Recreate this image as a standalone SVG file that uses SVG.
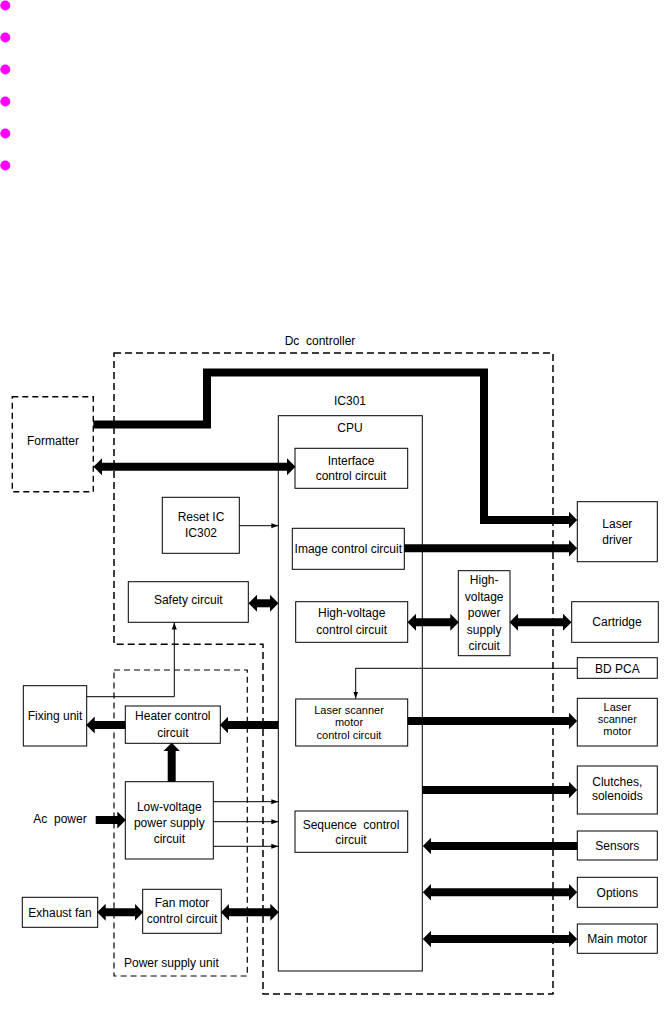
<svg xmlns="http://www.w3.org/2000/svg" width="670" height="1016" viewBox="0 0 670 1016">
<style>
text{font-family:"Liberation Sans",Arial,sans-serif;font-size:12px;fill:#000}
.c{text-anchor:middle}
.s{font-size:11px}
.box{fill:none;stroke:#000;stroke-width:1}
.dash{fill:none;stroke:#000;stroke-width:1.2;stroke-dasharray:6,4}
.thick{fill:none;stroke:#000;stroke-width:8;stroke-linejoin:miter}
.thin{fill:none;stroke:#000;stroke-width:1}
.dot{fill:#ff00ff}
</style>
<defs>
<marker id="ah" markerUnits="userSpaceOnUse" markerWidth="9" markerHeight="18" refX="3" refY="8.5" orient="auto-start-reverse" viewBox="0 0 9 17">
<path d="M0,0 L8.5,8.5 L0,17 z" fill="#000"/>
</marker>
<marker id="as" markerUnits="userSpaceOnUse" markerWidth="7" markerHeight="6" refX="7" refY="2.5" orient="auto" viewBox="0 0 7 5">
<path d="M0,0 L7,2.5 L0,5 z" fill="#000"/>
</marker>
</defs>

<g id="bullets">
<circle class="dot" cx="5.3" cy="5.5" r="5"/>
<circle class="dot" cx="5.3" cy="37.5" r="5"/>
<circle class="dot" cx="5.3" cy="69.5" r="5"/>
<circle class="dot" cx="5.3" cy="101.5" r="5"/>
<circle class="dot" cx="5.3" cy="133.5" r="5"/>
<circle class="dot" cx="5.3" cy="165.5" r="5"/>
</g>

<g id="dc-controller">
<path class="dash" d="M114,353 H553 V994 H263 V644.3 H114 Z" style="stroke-width:1.5;stroke-dasharray:7,4"/>
<text x="320" y="345" class="c" xml:space="preserve">Dc  controller</text>
</g>

<g id="power-supply-unit">
<rect class="dash" x="114" y="670" width="133.3" height="306"/>
<text x="124" y="967">Power supply unit</text>
</g>

<g id="formatter">
<rect class="dash" x="12.3" y="396.7" width="81" height="95" style="stroke-width:1.4"/>
<text x="53" y="445" class="c">Formatter</text>
</g>

<g id="ic301">
<rect class="box" x="278.3" y="415.7" width="144" height="555.3"/>
<text x="350" y="405" class="c">IC301</text>
<text x="350" y="432" class="c">CPU</text>
</g>

<g id="interface">
<rect class="box" x="295" y="448.3" width="112.7" height="40"/>
<text x="351" y="465" class="c">Interface</text>
<text x="351" y="480" class="c">control circuit</text>
</g>

<g id="reset-ic">
<rect class="box" x="162.3" y="497.3" width="77" height="56"/>
<text x="201" y="521" class="c">Reset IC</text>
<text x="201" y="537" class="c">IC302</text>
</g>

<g id="image-control">
<rect class="box" x="292.3" y="528.3" width="112" height="41"/>
<text x="348.3" y="553" class="c">Image control circuit</text>
</g>

<g id="laser-driver">
<rect class="box" x="577.3" y="501.7" width="80" height="60"/>
<text x="617.3" y="528" class="c">Laser</text>
<text x="617.3" y="544" class="c">driver</text>
</g>

<g id="safety">
<rect class="box" x="128.3" y="581.7" width="120" height="40.6"/>
<text x="188.3" y="604" class="c">Safety circuit</text>
</g>

<g id="hv-control">
<rect class="box" x="295.7" y="601.7" width="112" height="40.6"/>
<text x="351.7" y="617" class="c">High-voltage</text>
<text x="351.7" y="634" class="c">control circuit</text>
</g>

<g id="hv-power">
<rect class="box" x="458.3" y="570.7" width="51.7" height="85"/>
<text x="484.2" y="584" class="c">High-</text>
<text x="484.2" y="600.5" class="c">voltage</text>
<text x="484.2" y="617" class="c">power</text>
<text x="484.2" y="633.5" class="c">supply</text>
<text x="484.2" y="650" class="c">circuit</text>
</g>

<g id="cartridge">
<rect class="box" x="571.7" y="601.7" width="86.6" height="40.6"/>
<text x="617" y="626" class="c">Cartridge</text>
</g>

<g id="bd-pca">
<rect class="box" x="577.3" y="657.7" width="80" height="20.6"/>
<text x="617.3" y="672.5" class="c">BD PCA</text>
</g>

<g id="ls-control">
<rect class="box" x="295.7" y="699" width="112" height="47"/>
<text x="349" y="714" class="c s">Laser scanner</text>
<text x="349" y="726" class="c s">motor</text>
<text x="349" y="739" class="c s">control circuit</text>
</g>

<g id="ls-motor">
<rect class="box" x="577.3" y="698.3" width="80" height="47.7"/>
<text x="617.3" y="711" class="c s">Laser</text>
<text x="617.3" y="723" class="c s">scanner</text>
<text x="617.3" y="735" class="c s">motor</text>
</g>

<g id="clutches">
<rect class="box" x="577.3" y="766" width="80" height="48"/>
<text x="617.3" y="786" class="c">Clutches,</text>
<text x="617.3" y="800" class="c">solenoids</text>
</g>

<g id="sequence">
<rect class="box" x="295" y="811" width="112.7" height="41.3"/>
<text x="351" y="829" class="c" xml:space="preserve">Sequence  control</text>
<text x="351" y="844" class="c">circuit</text>
</g>

<g id="sensors">
<rect class="box" x="577.3" y="831" width="80" height="29"/>
<text x="617.3" y="850" class="c">Sensors</text>
</g>

<g id="options">
<rect class="box" x="577.3" y="877.3" width="80" height="30"/>
<text x="617.3" y="897" class="c">Options</text>
</g>

<g id="main-motor">
<rect class="box" x="577.3" y="924" width="80" height="29.3"/>
<text x="617.3" y="943" class="c">Main motor</text>
</g>

<g id="fixing">
<rect class="box" x="23.3" y="685.7" width="63.4" height="60.3"/>
<text x="55" y="720" class="c">Fixing unit</text>
</g>

<g id="heater">
<rect class="box" x="125.3" y="706" width="95" height="37.3"/>
<text x="172.8" y="720" class="c">Heater control</text>
<text x="172.8" y="737" class="c">circuit</text>
</g>

<g id="low-voltage">
<rect class="box" x="125.3" y="781.7" width="88" height="77.3"/>
<text x="169.3" y="810.5" class="c">Low-voltage</text>
<text x="169.3" y="826.5" class="c">power supply</text>
<text x="169.3" y="843" class="c">circuit</text>
</g>

<g id="ac-power">
<text x="33.3" y="823" xml:space="preserve">Ac  power</text>
</g>

<g id="exhaust-fan">
<rect class="box" x="22.3" y="897.3" width="75.4" height="30"/>
<text x="60" y="916.5" class="c">Exhaust fan</text>
</g>

<g id="fan-motor">
<rect class="box" x="142.7" y="889.3" width="78.6" height="44"/>
<text x="182" y="906.5" class="c">Fan motor</text>
<text x="182" y="923" class="c">control circuit</text>
</g>

<g id="connectors">
<polyline class="thick" points="93.3,424.5 207,424.5 207,372.5 484,372.5 484,520 571.7,520" marker-end="url(#ah)"/>
<line class="thick" x1="99" y1="466.7" x2="290" y2="466.7" marker-start="url(#ah)" marker-end="url(#ah)"/>
<line class="thin" x1="239.3" y1="525.7" x2="278.3" y2="525.7" marker-end="url(#as)"/>
<line class="thick" x1="404.3" y1="548.3" x2="571.7" y2="548.3" marker-end="url(#ah)"/>
<line class="thick" x1="254" y1="603.3" x2="273" y2="603.3" marker-start="url(#ah)" marker-end="url(#ah)"/>
<polyline class="thin" points="86.7,696.7 174.3,696.7 174.3,622.5" marker-end="url(#as)"/>
<line class="thick" x1="413" y1="622.3" x2="453.3" y2="622.3" marker-start="url(#ah)" marker-end="url(#ah)"/>
<line class="thick" x1="515" y1="622.3" x2="566" y2="622.3" marker-start="url(#ah)" marker-end="url(#ah)"/>
<polyline class="thin" points="577.3,668.3 355.7,668.3 355.7,698.5" marker-end="url(#as)"/>
<line class="thick" x1="407.7" y1="721" x2="571.7" y2="721" marker-end="url(#ah)"/>
<line class="thick" x1="278.3" y1="725" x2="225.3" y2="725" marker-end="url(#ah)"/>
<line class="thick" x1="125.3" y1="725" x2="91.7" y2="725" marker-end="url(#ah)"/>
<line class="thick" x1="171.7" y1="781.7" x2="171.7" y2="748.3" marker-end="url(#ah)"/>
<line class="thick" x1="95.7" y1="820" x2="120.3" y2="820" marker-end="url(#ah)"/>
<line class="thin" x1="213.3" y1="801.7" x2="278.3" y2="801.7" marker-end="url(#as)"/>
<line class="thin" x1="213.3" y1="821.7" x2="278.3" y2="821.7" marker-end="url(#as)"/>
<line class="thin" x1="213.3" y1="846.3" x2="278.3" y2="846.3" marker-end="url(#as)"/>
<line class="thick" x1="422.3" y1="790" x2="571.7" y2="790" marker-end="url(#ah)"/>
<line class="thick" x1="577.3" y1="846" x2="428.3" y2="846" marker-end="url(#ah)"/>
<line class="thick" x1="428.3" y1="892.3" x2="571.7" y2="892.3" marker-start="url(#ah)" marker-end="url(#ah)"/>
<line class="thick" x1="428.3" y1="939" x2="571.7" y2="939" marker-start="url(#ah)" marker-end="url(#ah)"/>
<line class="thick" x1="102.7" y1="912.3" x2="137.7" y2="912.3" marker-start="url(#ah)" marker-end="url(#ah)"/>
<line class="thick" x1="226.3" y1="912.3" x2="273.3" y2="912.3" marker-start="url(#ah)" marker-end="url(#ah)"/>
</g>
</svg>
